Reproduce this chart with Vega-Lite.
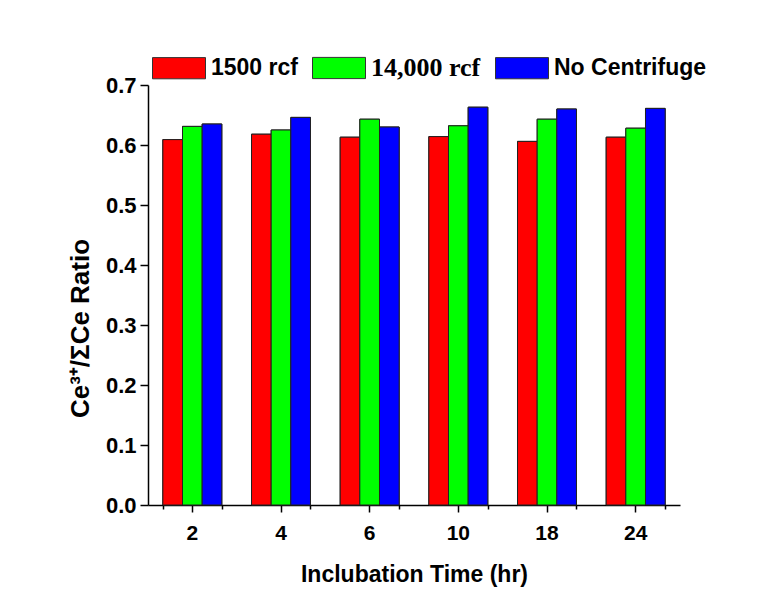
{
  "$schema": "https://vega.github.io/schema/vega-lite/v6.json",
  "width": 532,
  "height": 420,
  "autosize": {"type": "none"},
  "padding": {"left": 148, "top": 85, "right": 87, "bottom": 88},
  "background": "white",
  "data": {
    "values": [
      {"time": 2, "series": "1500 rcf", "value": 0.609},
      {"time": 2, "series": "14,000 rcf", "value": 0.631},
      {"time": 2, "series": "No Centrifuge", "value": 0.635},
      {"time": 4, "series": "1500 rcf", "value": 0.618},
      {"time": 4, "series": "14,000 rcf", "value": 0.625},
      {"time": 4, "series": "No Centrifuge", "value": 0.646},
      {"time": 6, "series": "1500 rcf", "value": 0.613},
      {"time": 6, "series": "14,000 rcf", "value": 0.643},
      {"time": 6, "series": "No Centrifuge", "value": 0.630},
      {"time": 10, "series": "1500 rcf", "value": 0.614},
      {"time": 10, "series": "14,000 rcf", "value": 0.632},
      {"time": 10, "series": "No Centrifuge", "value": 0.663},
      {"time": 18, "series": "1500 rcf", "value": 0.606},
      {"time": 18, "series": "14,000 rcf", "value": 0.643},
      {"time": 18, "series": "No Centrifuge", "value": 0.660},
      {"time": 24, "series": "1500 rcf", "value": 0.613},
      {"time": 24, "series": "14,000 rcf", "value": 0.628},
      {"time": 24, "series": "No Centrifuge", "value": 0.661}
    ]
  },
  "layer": [
    {
      "mark": {"type": "bar", "stroke": "#222222", "strokeWidth": 1},
      "encoding": {
        "x": {
          "field": "time",
          "type": "ordinal",
          "sort": [2, 4, 6, 10, 18, 24],
          "scale": {"paddingInner": 0.335, "paddingOuter": 0.1675},
          "axis": {
            "orient": "bottom",
            "title": "Inclubation Time (hr)",
            "labelAngle": 0,
            "labelFontSize": 21,
            "labelPadding": 10,
            "tickSize": 7,
            "tickWidth": 1.5,
            "titleFontSize": 23,
            "titlePadding": 20,
            "domainWidth": 1.5
          }
        },
        "xOffset": {
          "field": "series",
          "type": "nominal",
          "sort": ["1500 rcf", "14,000 rcf", "No Centrifuge"],
          "scale": {"paddingInner": 0, "paddingOuter": 0}
        },
        "y": {
          "field": "value",
          "type": "quantitative",
          "scale": {"domain": [0, 0.7], "nice": false, "zero": true},
          "axis": {
            "title": "Ce³⁺/ΣCe Ratio",
            "values": [0, 0.05, 0.1, 0.15, 0.2, 0.25, 0.3, 0.35, 0.4, 0.45, 0.5, 0.55, 0.6, 0.65, 0.7],
            "labelExpr": "round(datum.value * 100) % 10 === 0 ? format(datum.value, '.1f') : ''",
            "labelOverlap": false,
            "tickSize": {"condition": {"test": "round(datum.value * 100) % 10 !== 0", "value": 4}, "value": 8},
            "tickWidth": 1.5,
            "labelFontSize": 22,
            "labelPadding": 4,
            "titleFontSize": 26,
            "titlePadding": 12,
            "titleY": 243,
            "domainWidth": 1.5
          }
        },
        "color": {
          "field": "series",
          "type": "nominal",
          "sort": ["1500 rcf", "14,000 rcf", "No Centrifuge"],
          "scale": {"domain": ["1500 rcf", "14,000 rcf", "No Centrifuge"], "range": ["#ff0000", "#00ff00", "#0000ff"]},
          "legend": {
            "orient": "none",
            "legendX": 4,
            "legendY": -44,
            "direction": "horizontal",
            "columns": 3,
            "title": null,
            "padding": 0,
            "symbolType": "M-1,-0.4H1V0.4H-1Z",
            "symbolSize": 2809,
            "symbolStrokeColor": "#333333",
            "symbolStrokeWidth": 1,
            "symbolOpacity": 1,
            "labelFont": "Liberation Sans",
            "labelFontSize": 23,
            "labelFontWeight": "bold",
            "labelColor": "black",
            "labelOffset": 5,
            "columnPadding": 12,
            "encode": {
              "labels": {
                "update": {
                  "font": {"signal": "datum.label === '14,000 rcf' ? 'Liberation Serif' : 'Liberation Sans'"},
                  "fontSize": {"signal": "datum.label === '14,000 rcf' ? 26 : 23"}
                }
              }
            }
          }
        }
      }
    },
    {
      "mark": {"type": "bar", "stroke": "#222222", "strokeWidth": 1},
      "encoding": {
        "x": {
          "field": "time",
          "type": "ordinal",
          "sort": [2, 4, 6, 10, 18, 24],
          "axis": {
            "orient": "bottom",
            "tickBand": "extent",
            "labels": false,
            "title": null,
            "domain": false,
            "tickSize": 4,
            "tickWidth": 1.5
          }
        },
        "xOffset": {
          "field": "series",
          "type": "nominal",
          "sort": ["1500 rcf", "14,000 rcf", "No Centrifuge"]
        },
        "y": {"field": "value", "type": "quantitative"},
        "color": {"field": "series", "type": "nominal"}
      }
    }
  ],
  "resolve": {"axis": {"x": "independent"}},
  "config": {
    "font": "Liberation Sans",
    "view": {"stroke": null},
    "axis": {
      "labelFont": "Liberation Sans",
      "labelFontWeight": "bold",
      "labelColor": "black",
      "titleFont": "Liberation Sans",
      "titleFontWeight": "bold",
      "titleColor": "black",
      "domainColor": "black",
      "tickColor": "black",
      "grid": false
    }
  }
}
